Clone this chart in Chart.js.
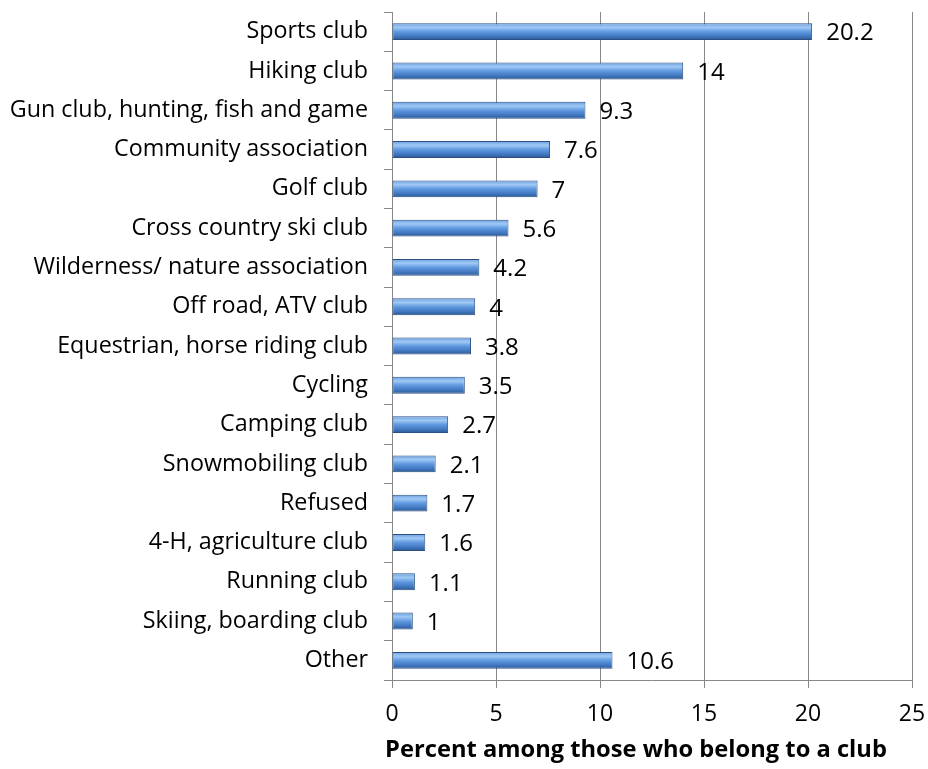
<!DOCTYPE html>
<html>
<head>
<meta charset="utf-8">
<script src="https://cdn.jsdelivr.net/npm/chart.js@4"></script>
<style>
  html, body { margin: 0; padding: 0; background: #fff; }
  #wrap { width: 928px; height: 769px; }
</style>
</head>
<body>
<div id="wrap"><canvas id="chart"></canvas></div>
<script>
const categories = [
  "Sports club", "Hiking club", "Gun club, hunting, fish and game",
  "Community association", "Golf club", "Cross country ski club",
  "Wilderness/ nature association", "Off road, ATV club",
  "Equestrian, horse riding club", "Cycling", "Camping club",
  "Snowmobiling club", "Refused", "4-H, agriculture club",
  "Running club", "Skiing, boarding club", "Other"
];
const percents = [20.2, 14, 9.3, 7.6, 7, 5.6, 4.2, 4, 3.8, 3.5, 2.7, 2.1, 1.7, 1.6, 1.1, 1, 10.6];
const xTicks = [0, 5, 10, 15, 20, 25];
const xTitle = "Percent among those who belong to a club";

const font = "'Open Sans', 'DejaVu Sans', sans-serif";

// bevelled look: each bar gets its own vertical gradient from its real position
const barShading = {
  id: "barShading",
  beforeDatasetsDraw(chart) {
    const ctx = chart.ctx;
    chart.getDatasetMeta(0).data.forEach(bar => {
      const top = bar.y - bar.height / 2;
      const g = ctx.createLinearGradient(0, top, 0, top + bar.height);
      g.addColorStop(0, "#6a9fe2");
      g.addColorStop(0.25, "#a0c9f4");
      g.addColorStop(0.5, "#619ae1");
      g.addColorStop(0.8, "#3f75bd");
      g.addColorStop(1, "#2a5590");
      bar.options = Object.assign({}, bar.options, { backgroundColor: g });
    });
  }
};

// value labels right of the bars, axis title under the plot
const textLayer = {
  id: "textLayer",
  afterDatasetsDraw(chart) {
    const ctx = chart.ctx;
    ctx.save();
    ctx.font = "24px " + font;
    ctx.fillStyle = "#000";
    ctx.textBaseline = "middle";
    chart.getDatasetMeta(0).data.forEach((bar, i) => {
      ctx.fillText(String(percents[i]), bar.x + 14, bar.y + 2);
    });
    const a = chart.chartArea;
    ctx.font = "bold 23.7px " + font;
    ctx.textAlign = "center";
    ctx.fillText(xTitle, (a.left + a.right) / 2 - 16, 750);
    ctx.restore();
  }
};

new Chart(document.getElementById("chart"), {
  type: "bar",
  data: {
    labels: categories,
    datasets: [{
      data: percents,
      backgroundColor: "#4a86d4",
      borderColor: "#2a4f80",
      borderWidth: 1,
      borderSkipped: false,
      barPercentage: 0.43,
      categoryPercentage: 1
    }]
  },
  options: {
    indexAxis: "y",
    responsive: true,
    maintainAspectRatio: false,
    animation: false,
    layout: { padding: { top: 12, right: 0, left: 0, bottom: 0 } },
    plugins: {
      legend: { display: false },
      tooltip: { enabled: false }
    },
    scales: {
      x: {
        min: 0,
        max: 25,
        afterBuildTicks: s => { s.ticks = xTicks.map(v => ({ value: v })); },
        afterFit: s => { s.height = 89; s.paddingRight = 16; s.paddingLeft = 0; },
        grid: { color: "#888", lineWidth: 1, tickLength: 8 },
        border: { display: true, color: "#888" },
        ticks: { color: "#000", font: { family: font, size: 23 }, padding: 13 }
      },
      y: {
        afterFit: s => { s.width = 392; s.paddingTop = 0; s.paddingBottom = 0; },
        grid: { drawOnChartArea: false, offset: true, color: "#888", tickLength: 8 },
        border: { display: true, color: "#888" },
        ticks: { color: "#000", font: { family: font, size: 23.3 }, padding: 16 }
      }
    }
  },
  plugins: [barShading, textLayer]
});
</script>
</body>
</html>
